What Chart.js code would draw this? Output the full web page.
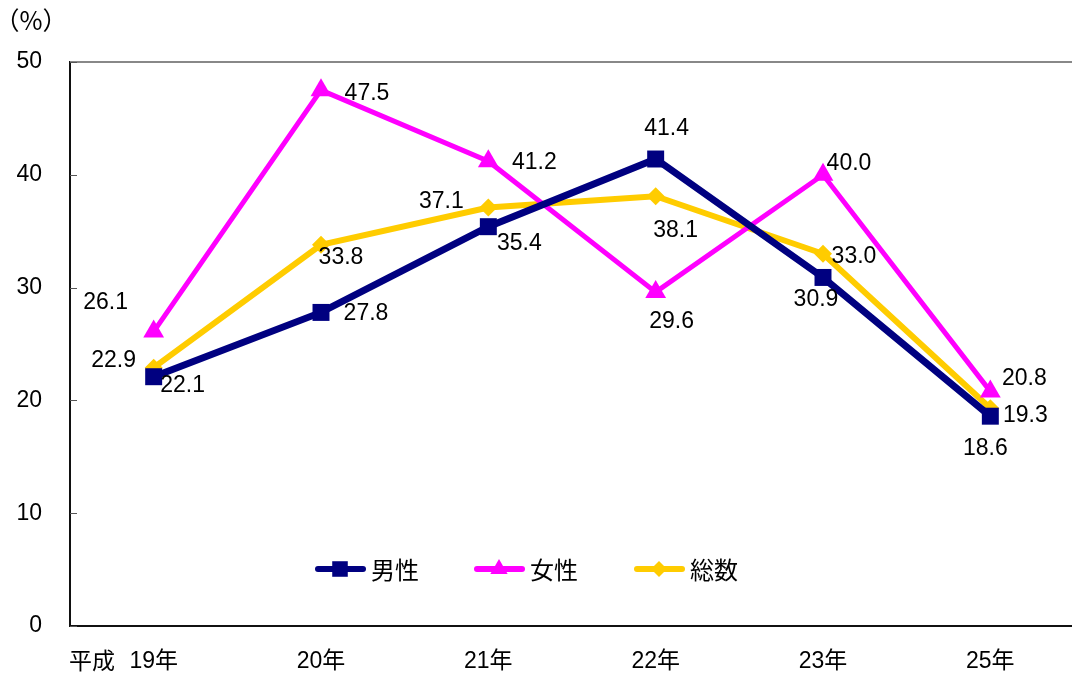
<!DOCTYPE html>
<html lang="ja">
<head>
<meta charset="utf-8">
<script src="https://cdn.jsdelivr.net/npm/chart.js@4"></script>
<style>
  html, body { margin: 0; padding: 0; background: #fff; overflow: hidden; }
  #wrap { position: relative; width: 1086px; height: 673px; }
</style>
</head>
<body>
<div id="wrap"><canvas id="rateChart" width="1086" height="673"></canvas></div>
<script>
const era = '平成';
const years = ['19年', '20年', '21年', '22年', '23年', '25年'];
const male = [22.1, 27.8, 35.4, 41.4, 30.9, 18.6];
const female = [26.1, 47.5, 41.2, 29.6, 40.0, 20.8];
const total = [22.9, 33.8, 37.1, 38.1, 33.0, 19.3];
const yTicks = [0, 10, 20, 30, 40, 50];

// offset of each value label's centre from its point, in px
const maleLabelOffset = [[29, 8], [45, 0], [31, 16], [11, -31], [-7, 21], [-5, 31]];
const femaleLabelOffset = [[-48, -30], [46, 2], [46, 0], [16, 29], [26, -12], [34, -14]];
const totalLabelOffset = [[-40, -8], [20, 12], [-47, -7], [20, 33], [31, 2], [35, 6]];

const FONT = '"Liberation Sans", "Noto Sans CJK JP", sans-serif';
const CJK = '"Noto Sans CJK JP", sans-serif';

const valueLabels = {
    id: 'valueLabels',
    afterDatasetsDraw(chart) {
        const ctx = chart.ctx;
        ctx.save();
        ctx.font = '23px ' + FONT;
        ctx.fillStyle = '#000';
        ctx.textAlign = 'center';
        ctx.textBaseline = 'middle';
        chart.data.datasets.forEach((ds, i) => {
            const meta = chart.getDatasetMeta(i);
            meta.data.forEach((pt, j) => {
                const off = ds.labelOffset[j];
                ctx.fillText(ds.data[j].toFixed(1), pt.x + off[0], pt.y + off[1] + 1);
            });
        });
        ctx.restore();
    }
};

const frameAndLegend = {
    id: 'frameAndLegend',
    afterDraw(chart) {
        const ctx = chart.ctx;
        const a = chart.chartArea;
        const yScale = chart.scales.y;
        ctx.save();
        // top edge of the plot area
        ctx.strokeStyle = '#888';
        ctx.lineWidth = 2;
        ctx.beginPath();
        ctx.moveTo(a.left, a.top);
        ctx.lineTo(a.right, a.top);
        ctx.stroke();

        // short inward ticks on the value axis
        ctx.strokeStyle = '#555';
        ctx.lineWidth = 1;
        yTicks.forEach(v => {
            const y = Math.round(yScale.getPixelForValue(v)) + 0.5;
            ctx.beginPath();
            ctx.moveTo(a.left, y);
            ctx.lineTo(a.left + 7, y);
            ctx.stroke();
        });

        // unit label and era prefix
        ctx.fillStyle = '#000';
        ctx.textBaseline = 'middle';
        ctx.textAlign = 'center';
        ctx.font = '25px ' + CJK;
        ctx.fillText('（%）', 31, 20);
        ctx.font = '23px ' + CJK;
        ctx.fillText(era, 92, 660);

        // legend inside the plot
        const startX = [318, 477, 637];
        const ly = 569;
        chart.data.datasets.forEach((ds, i) => {
            const x0 = startX[i];
            ctx.strokeStyle = ds.borderColor;
            ctx.lineWidth = 6;
            ctx.lineCap = 'round';
            ctx.beginPath();
            ctx.moveTo(x0, ly);
            ctx.lineTo(x0 + 45, ly);
            ctx.stroke();
            ctx.fillStyle = ds.borderColor;
            Chart.helpers.drawPoint(ctx, {
                pointStyle: ds.pointStyle,
                radius: ds.legendRadius,
                rotation: 0,
                borderWidth: 0
            }, x0 + 22, ly);
            ctx.fillStyle = '#000';
            ctx.font = '24px ' + CJK;
            ctx.textAlign = 'left';
            ctx.fillText(ds.label, x0 + 53, ly + 1);
        });
        ctx.restore();
    }
};

new Chart(document.getElementById('rateChart'), {
    type: 'line',
    data: {
        labels: years,
        datasets: [{
            label: '男性',
            data: male,
            labelOffset: maleLabelOffset,
            borderColor: '#000080',
            backgroundColor: '#000080',
            borderWidth: 7,
            pointStyle: 'rect',
            pointRadius: 12,
            legendRadius: 11,
            pointBorderWidth: 0,
            tension: 0
        }, {
            label: '女性',
            data: female,
            labelOffset: femaleLabelOffset,
            borderColor: '#FF00FF',
            backgroundColor: '#FF00FF',
            borderWidth: 5,
            pointStyle: 'triangle',
            pointRadius: 12,
            legendRadius: 10,
            pointBorderWidth: 0,
            tension: 0
        }, {
            label: '総数',
            data: total,
            labelOffset: totalLabelOffset,
            borderColor: '#FFCC00',
            backgroundColor: '#FFCC00',
            borderWidth: 6,
            pointStyle: 'rectRot',
            pointRadius: 9,
            legendRadius: 8,
            pointBorderWidth: 0,
            tension: 0
        }]
    },
    options: {
        responsive: false,
        animation: false,
        devicePixelRatio: 1,
        layout: { padding: { top: 62, right: 0, left: 0, bottom: 0 } },
        plugins: {
            legend: { display: false },
            tooltip: { enabled: false }
        },
        scales: {
            x: {
                offset: true,
                grid: { display: false, drawTicks: false },
                border: { color: '#111', width: 2 },
                ticks: { color: '#000', padding: 22, font: { size: 23, family: FONT }, maxRotation: 0 },
                afterFit(axis) { axis.height = 47; }
            },
            y: {
                min: 0,
                max: 50,
                grid: { display: false, drawTicks: false },
                border: { color: '#111', width: 2 },
                afterBuildTicks(axis) { axis.ticks = yTicks.map(v => ({ value: v })); },
                ticks: { color: '#000', padding: 28, font: { size: 23, family: FONT } },
                afterFit(axis) { axis.width = 70; }
            }
        }
    },
    plugins: [valueLabels, frameAndLegend]
});
</script>
</body>
</html>
